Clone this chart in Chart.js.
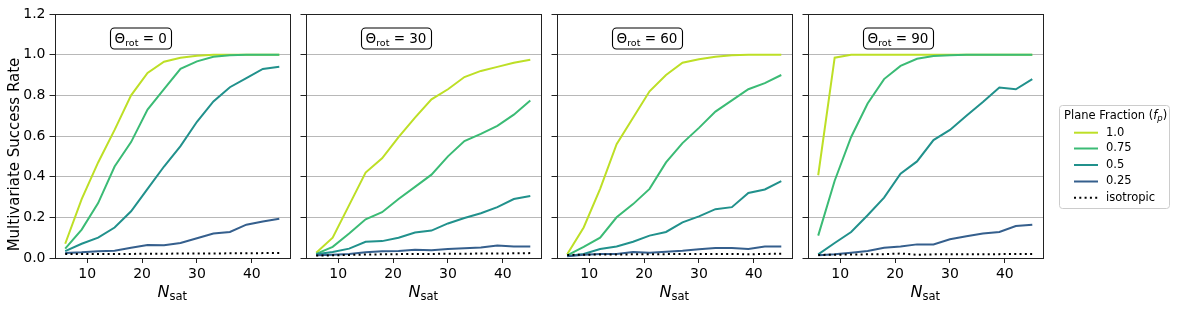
<!DOCTYPE html>
<html>
<head>
<meta charset="utf-8">
<script src="https://cdn.jsdelivr.net/npm/chart.js@4.4.1/dist/chart.umd.min.js"></script>
<style>
  html, body { margin: 0; padding: 0; background: #fff; }
  #wrap { position: relative; width: 1177px; height: 309px; }
  #wrap canvas { position: absolute; left: 0; top: 0; }
</style>
</head>
<body>
<div id="wrap">
  <canvas id="c0" width="1177" height="309"></canvas>
  <canvas id="c1" width="1177" height="309"></canvas>
  <canvas id="c2" width="1177" height="309"></canvas>
  <canvas id="c3" width="1177" height="309"></canvas>
</div>
<script>
// x values and tick labels
const nSat = [6, 9, 12, 15, 18, 21, 24, 27, 30, 33, 36, 39, 42, 45];
const rotAngles = [0, 30, 60, 90];
const fracLabels = ['1.0', '0.75', '0.5', '0.25', 'isotropic'];
const xTicks = [10, 20, 30, 40];
const yTicks = [0, 0.2, 0.4, 0.6, 0.8, 1.0, 1.2];

// Theta_rot = 0
const rot0_f100 = [0.07, 0.29, 0.47, 0.63, 0.80, 0.91, 0.965, 0.985, 0.995, 1.0, 1.0, 1.0, 1.0, 1.0];
const rot0_f75  = [0.046, 0.14, 0.27, 0.45, 0.57, 0.73, 0.83, 0.93, 0.967, 0.99, 0.997, 1.0, 1.0, 1.0];
const rot0_f50  = [0.034, 0.07, 0.10, 0.15, 0.23, 0.34, 0.45, 0.55, 0.67, 0.77, 0.84, 0.885, 0.93, 0.94];
const rot0_f25  = [0.025, 0.028, 0.033, 0.036, 0.05, 0.064, 0.063, 0.074, 0.097, 0.12, 0.128, 0.164, 0.18, 0.193];
const rot0_iso  = [0.02, 0.02, 0.02, 0.02, 0.02, 0.021, 0.021, 0.022, 0.022, 0.022, 0.023, 0.023, 0.024, 0.024];

// Theta_rot = 30
const rot30_f100 = [0.026, 0.10, 0.26, 0.42, 0.49, 0.595, 0.69, 0.78, 0.83, 0.89, 0.92, 0.94, 0.96, 0.975];
const rot30_f75  = [0.02, 0.055, 0.12, 0.19, 0.225, 0.29, 0.35, 0.41, 0.50, 0.575, 0.61, 0.65, 0.705, 0.775];
const rot30_f50  = [0.018, 0.03, 0.046, 0.08, 0.083, 0.10, 0.125, 0.135, 0.17, 0.197, 0.22, 0.25, 0.29, 0.305];
const rot30_f25  = [0.013, 0.016, 0.02, 0.028, 0.033, 0.034, 0.04, 0.038, 0.044, 0.048, 0.052, 0.062, 0.057, 0.056];
const rot30_iso  = [0.012, 0.013, 0.015, 0.017, 0.018, 0.019, 0.02, 0.02, 0.021, 0.021, 0.022, 0.022, 0.023, 0.024];

// Theta_rot = 60
const rot60_f100 = [0.018, 0.15, 0.34, 0.56, 0.69, 0.82, 0.90, 0.96, 0.977, 0.99, 0.997, 1.0, 1.0, 1.0];
const rot60_f75  = [0.013, 0.055, 0.10, 0.20, 0.265, 0.34, 0.47, 0.565, 0.64, 0.72, 0.775, 0.83, 0.86, 0.90];
const rot60_f50  = [0.01, 0.02, 0.044, 0.057, 0.08, 0.11, 0.128, 0.175, 0.205, 0.24, 0.25, 0.32, 0.337, 0.378];
const rot60_f25  = [0.008, 0.016, 0.02, 0.02, 0.03, 0.026, 0.031, 0.036, 0.043, 0.049, 0.049, 0.044, 0.056, 0.056];
const rot60_iso  = [0.015, 0.016, 0.017, 0.017, 0.018, 0.019, 0.019, 0.02, 0.02, 0.02, 0.02, 0.018, 0.02, 0.021];

// Theta_rot = 90
const rot90_f100 = [0.407, 0.985, 1.0, 1.0, 1.0, 1.0, 1.0, 1.0, 1.0, 1.0, 1.0, 1.0, 1.0, 1.0];
const rot90_f75  = [0.11, 0.38, 0.595, 0.76, 0.88, 0.945, 0.98, 0.993, 0.997, 1.0, 1.0, 1.0, 1.0, 1.0];
const rot90_f50  = [0.018, 0.074, 0.128, 0.21, 0.297, 0.415, 0.475, 0.58, 0.63, 0.70, 0.767, 0.838, 0.83, 0.88];
const rot90_f25  = [0.013, 0.018, 0.026, 0.034, 0.05, 0.057, 0.067, 0.067, 0.092, 0.107, 0.12, 0.128, 0.157, 0.164];
const rot90_iso  = [0.015, 0.016, 0.017, 0.018, 0.019, 0.022, 0.016, 0.018, 0.018, 0.019, 0.019, 0.019, 0.02, 0.02];

const panelSeries = [
  [rot0_f100, rot0_f75, rot0_f50, rot0_f25, rot0_iso],
  [rot30_f100, rot30_f75, rot30_f50, rot30_f25, rot30_iso],
  [rot60_f100, rot60_f75, rot60_f50, rot60_f25, rot60_iso],
  [rot90_f100, rot90_f75, rot90_f50, rot90_f25, rot90_iso]
];

const colors = ['#bddf26', '#3bbb75', '#21918c', '#355f8d', '#000000'];
const FONT = "'DejaVu Sans'";
const INK = '#222222';

// layout of the four panels (pixels)
const panelLeft = [54.5, 305.5, 556.5, 807.5];
const panelWidth = 235.5;
const yAxisW = 40;

// draw a row of text pieces (for subscripts / italics)
function drawRuns(ctx, runs, x, y, align) {
  let total = 0;
  runs.forEach(r => {
    ctx.font = (r.italic ? 'italic ' : '') + r.size + 'px ' + FONT;
    r.w = ctx.measureText(r.text).width;
    total += r.w;
  });
  let cx = align === 'center' ? x - total / 2 : x;
  ctx.textAlign = 'left';
  ctx.textBaseline = 'alphabetic';
  runs.forEach(r => {
    ctx.font = (r.italic ? 'italic ' : '') + r.size + 'px ' + FONT;
    ctx.fillText(r.text, cx, y + (r.dy || 0));
    cx += r.w;
  });
  return total;
}

const framePlugin = {
  id: 'frame',
  afterDraw(chart, args, opts) {
    const ctx = chart.ctx;
    const a = chart.chartArea;
    ctx.save();
    ctx.fillStyle = '#000';

    // axis frame
    ctx.strokeStyle = INK;
    ctx.lineWidth = 1;
    ctx.strokeRect(Math.round(a.left) + 0.5, Math.round(a.top) + 0.5,
      Math.round(a.right) - Math.round(a.left), Math.round(a.bottom) - Math.round(a.top));

    // x label N_sat
    drawRuns(ctx, [
      { text: 'N', size: 16, italic: true },
      { text: 'sat', size: 11.5, dy: 3 }
    ], (a.left + a.right) / 2, 297, 'center');

    // rotation annotation box
    const runs = [
      { text: '\u0398', size: 13.5 },
      { text: 'rot', size: 9.5, dy: 3 },
      { text: ' = ' + opts.rot, size: 13.5 }
    ];
    let w = 0;
    runs.forEach(r => { ctx.font = r.size + 'px ' + FONT; w += ctx.measureText(r.text).width; });
    const bx = a.left + 55.5, by = 27.5, bw = w + 9, bh = 21;
    ctx.beginPath();
    ctx.roundRect(Math.round(bx) + 0.5, by + 0.5, Math.round(bw), bh, 4);
    ctx.fillStyle = '#fff';
    ctx.fill();
    ctx.strokeStyle = '#000';
    ctx.lineWidth = 1.1;
    ctx.stroke();
    ctx.fillStyle = '#000';
    drawRuns(ctx, runs, bx + 4.5, 43, 'left');

    if (opts.first) {
      ctx.save();
      ctx.translate(15, 154.5);
      ctx.rotate(-Math.PI / 2);
      ctx.font = '15px ' + FONT;
      ctx.textAlign = 'center';
      ctx.textBaseline = 'middle';
      ctx.fillText('Multivariate Success Rate', 0, 0);
      ctx.restore();
    }

    if (opts.last) {
      // figure legend
      const lx = 1059.5, ly = 105.5, lw = 110, lh = 103;
      ctx.beginPath();
      ctx.roundRect(lx, ly, lw, lh, 3);
      ctx.fillStyle = 'rgba(255,255,255,0.8)';
      ctx.fill();
      ctx.strokeStyle = '#cccccc';
      ctx.lineWidth = 1;
      ctx.stroke();
      ctx.fillStyle = '#000';
      drawRuns(ctx, [
        { text: 'Plane Fraction (', size: 11.5 },
        { text: 'f', size: 11.5, italic: true },
        { text: 'p', size: 8.5, italic: true, dy: 2.5 },
        { text: ')', size: 11.5 }
      ], 1064, 118.5, 'left');
      const rowY = [132.7, 148.5, 165, 181.5, 197.7];
      fracLabels.forEach((lab, k) => {
        ctx.beginPath();
        ctx.strokeStyle = colors[k];
        ctx.lineWidth = 2;
        ctx.setLineDash(k === 4 ? [2, 3.3] : []);
        ctx.moveTo(1074, rowY[k]);
        ctx.lineTo(1098, rowY[k]);
        ctx.stroke();
        ctx.setLineDash([]);
        ctx.fillStyle = '#000';
        ctx.font = '11.5px ' + FONT;
        ctx.textAlign = 'left';
        ctx.textBaseline = 'middle';
        ctx.fillText(lab, 1106, rowY[k]);
      });
    }
    ctx.restore();
  }
};

panelSeries.forEach((series, i) => {
  const datasets = series.map((vals, k) => ({
    label: fracLabels[k],
    data: nSat.map((x, j) => ({ x: x, y: vals[j] })),
    borderColor: colors[k],
    backgroundColor: colors[k],
    borderWidth: 2,
    borderDash: k === 4 ? [2, 3.3] : [],
    pointRadius: 0,
    tension: 0,
    fill: false,
    order: k === 4 ? 0 : 5 - k
  }));

  new Chart(document.getElementById('c' + i), {
    type: 'line',
    data: { datasets: datasets },
    options: {
      responsive: false,
      animation: false,
      events: [],
      layout: {
        padding: {
          left: panelLeft[i] - yAxisW,
          right: 1177 - panelLeft[i] - panelWidth,
          top: 14,
          bottom: 0
        }
      },
      plugins: {
        legend: { display: false },
        tooltip: { enabled: false },
        frame: { rot: rotAngles[i], first: i === 0, last: i === 3 }
      },
      scales: {
        x: {
          type: 'linear',
          min: 4.05,
          max: 46.95,
          afterBuildTicks: s => { s.ticks = xTicks.map(v => ({ value: v })); },
          afterFit: s => { s.height = 51; },
          border: { display: false },
          grid: { drawOnChartArea: false, drawTicks: true, tickLength: 5, tickColor: INK, tickWidth: 1 },
          ticks: { font: { family: FONT, size: 14 }, color: '#000', padding: 3, maxRotation: 0, autoSkip: false }
        },
        y: {
          min: 0,
          max: 1.2,
          afterBuildTicks: s => { s.ticks = yTicks.map(v => ({ value: v })); },
          afterFit: s => { s.width = yAxisW; },
          border: { display: false },
          grid: { color: '#b8b8b8', lineWidth: 1, drawTicks: true, tickLength: 5, tickColor: INK, tickWidth: 1 },
          ticks: {
            font: { family: FONT, size: 14 }, color: '#000', padding: 4, autoSkip: false,
            callback: v => (i === 0 ? v.toFixed(1) : '')
          }
        }
      }
    },
    plugins: [framePlugin]
  });
});
</script>
</body>
</html>
